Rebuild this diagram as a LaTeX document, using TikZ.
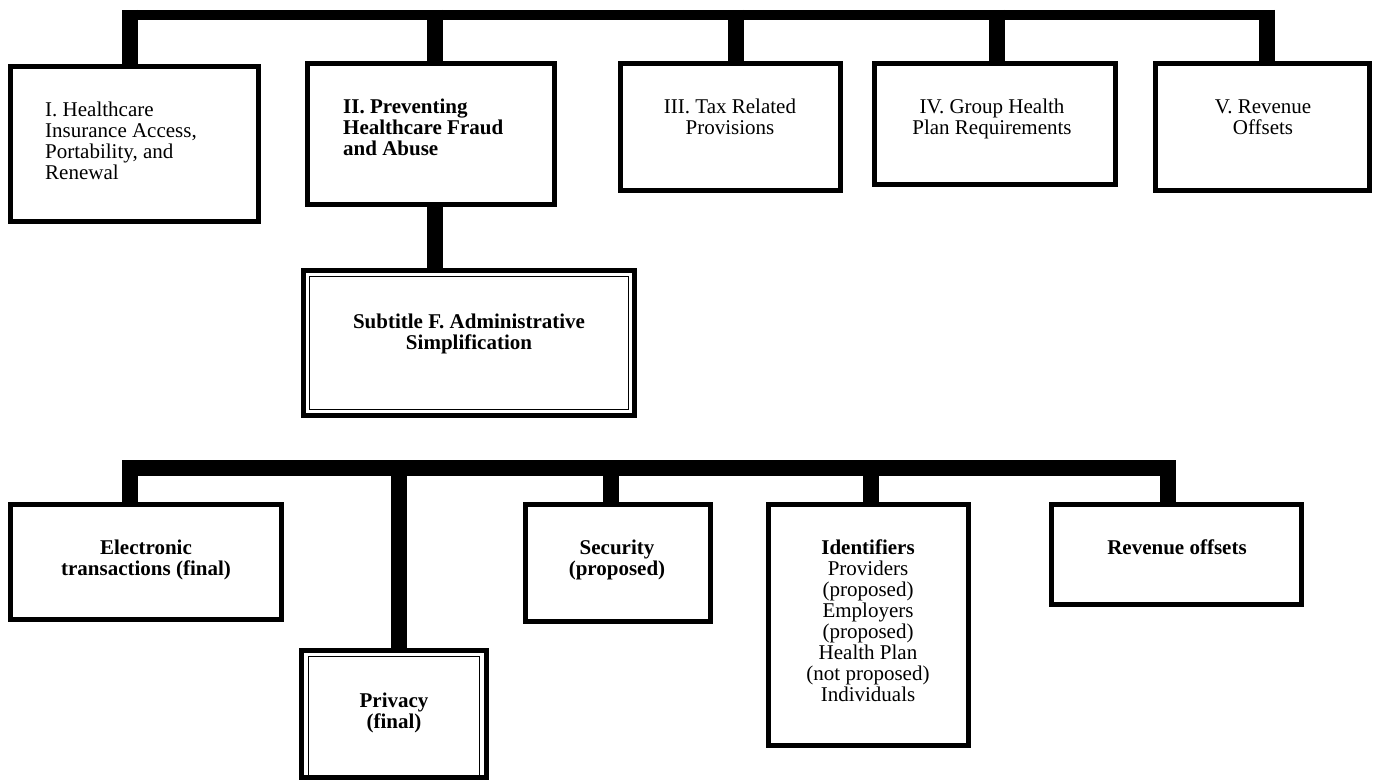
\documentclass[tikz,border=0pt]{standalone}
\usepackage{fontspec}
\setmainfont{Liberation Serif}
\usetikzlibrary{calc}
\newcommand\fsz{\fontsize{21}{21}\selectfont}
\newcommand\stt{\rule{0pt}{16pt}}
\begin{document}
\begin{tikzpicture}[x=1pt,y=-1pt,
  box/.style={draw=black, line width=5pt, fill=white, inner sep=0pt, rectangle},
  innerline/.style={draw=black, line width=1.1pt},
  stem/.style={line width=16pt, line cap=butt, draw=black},
  hbar/.style={line width=10.5pt, line cap=butt, draw=black},
  lbar/.style={line width=16pt, line cap=butt, draw=black},
  txt/.style={inner sep=0pt, font=\fsz},
  txtl/.style={txt, align=left, anchor=north west},
  txtc/.style={txt, align=center, anchor=north}]
\useasboundingbox (0,0) rectangle (1374,781);
% top row boxes
\node[box, minimum width=248pt, minimum height=155pt] (I) at (134.5,144) {};
\node[box, minimum width=247pt, minimum height=141pt] (II) at (431,134) {};
\node[box, minimum width=220pt, minimum height=127pt] (III) at (730.5,127) {};
\node[box, minimum width=241pt, minimum height=121pt] (IV) at (995,124) {};
\node[box, minimum width=214pt, minimum height=127pt] (V) at (1262.5,127) {};
% subtitle
\node[box, minimum width=331pt, minimum height=145pt] (sub) at (469,343) {};
\draw[innerline] ($(sub.north west)+(8.5,8.5)$) rectangle ($(sub.south east)+(-8.5,-8.5)$);
% bottom row
\node[box, minimum width=271pt, minimum height=115pt] (el) at (146,562) {};
\node[box, minimum width=185pt, minimum height=127pt] (pr) at (394,714) {};
\draw[innerline] ($(pr.north west)+(9.5,8.5)$) rectangle ($(pr.south east)+(-9.5,-4.5)$);
\node[box, minimum width=185pt, minimum height=117pt] (se) at (618,563) {};
\node[box, minimum width=200pt, minimum height=241pt] (id) at (868.5,625) {};
\node[box, minimum width=250pt, minimum height=100pt] (re) at (1176.5,554.5) {};
% top connectors
\coordinate (ta) at (122,15.25);
\coordinate (tb) at (1274,15.25);
\draw[hbar] (ta) -- (tb);
\coordinate (sI) at (130,10);
\coordinate (sII) at (435,10);
\coordinate (sIII) at (736,10);
\coordinate (sIV) at (997,10);
\coordinate (sV) at (1266.5,10);
\draw[stem] (sI) -- (sI |- I.north);
\draw[stem] (sII) -- (sII |- II.north);
\draw[stem] (sIII) -- (sIII |- III.north);
\draw[stem] (sIV) -- (sIV |- IV.north);
\draw[stem] (sV) -- (sV |- V.north);
\draw[stem] (sII |- II.south) -- (sII |- sub.north);
% lower connectors
\coordinate (la) at (122,468);
\coordinate (lb) at (1176,468);
\draw[lbar] (la) -- (lb);
\coordinate (lE) at (130,460);
\coordinate (lP) at (398.5,460);
\coordinate (lS) at (610.5,460);
\coordinate (lI) at (871,460);
\coordinate (lR) at (1168,460);
\draw[stem] (lE) -- (lE |- el.north);
\draw[stem] (lP) -- (lP |- pr.north);
\draw[stem] (lS) -- (lS |- se.north);
\draw[stem] (lI) -- (lI |- id.north);
\draw[stem] (lR) -- (lR |- re.north);
% texts
\node[txtl] (tI) at (45,100) {\stt I. Healthcare\\Insurance Access,\\Portability, and\\Renewal};
\node[txtl, font=\fsz\bfseries] (tII) at (343,97) {\stt II. Preventing\\Healthcare Fraud\\and Abuse};
\node[txtc] (tIII) at (730,97) {\stt III. Tax Related\\Provisions};
\node[txtc] (tIV) at (992,97) {\stt IV. Group Health\\Plan Requirements};
\node[txtc] (tV) at (1263,97) {\stt V. Revenue\\Offsets};
\node[txtc, font=\fsz\bfseries] (tsub) at (469,312) {\stt Subtitle F. Administrative\\Simplification};
\node[txtc, font=\fsz\bfseries] (tel) at (146,538) {\stt Electronic\\transactions (final)};
\node[txtc, font=\fsz\bfseries] (tpr) at (394,691) {\stt Privacy\\(final)};
\node[txtc, font=\fsz\bfseries] (tse) at (617,538) {\stt Security\\(proposed)};
\node[txtc] (tid) at (868,538) {\stt\textbf{Identifiers}\\Providers\\(proposed)\\Employers\\(proposed)\\Health Plan\\(not proposed)\\Individuals};
\node[txtc, font=\fsz\bfseries] (tre) at (1177,538) {\stt Revenue offsets};
\end{tikzpicture}
\end{document}
